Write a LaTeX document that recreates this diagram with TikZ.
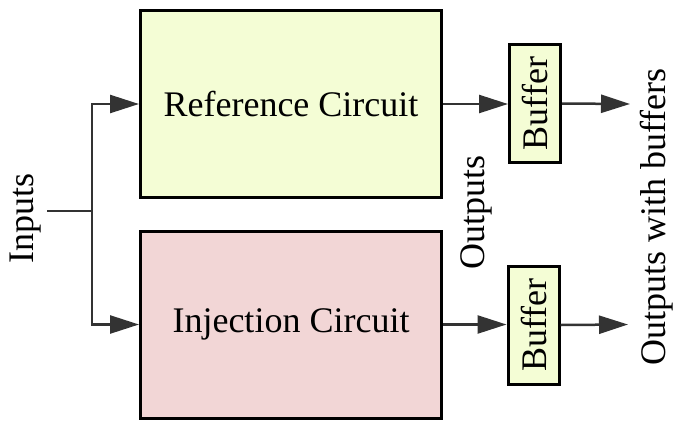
\documentclass[tikz,border=0pt]{standalone}
\usepackage{fontspec}
\setmainfont{Liberation Serif}
\usetikzlibrary{arrows.meta}
\definecolor{refFill}{HTML}{F4FDD5}
\definecolor{injFill}{HTML}{F2D6D6}
\definecolor{wire}{HTML}{333333}
\begin{document}
\begin{tikzpicture}[x=1pt,y=-1pt,
  font=\fontsize{36}{40}\selectfont,
  block/.style={draw=black, line width=3pt, inner sep=0pt},
  bufbox/.style={block, fill=refFill, rotate=90, minimum width=118pt, minimum height=51pt},
  label/.style={inner sep=0pt, rotate=90},
  wireline/.style={draw=wire, line width=2.5pt},
  flow/.style={wireline, -{Triangle[length=29pt,width=18pt]}}]
\useasboundingbox (0,0) rectangle (675,421);

% circuit blocks
\node[block, fill=refFill, minimum width=301pt, minimum height=187pt] (ref) at (291,104) {Reference Circuit};
\node[block, fill=injFill, minimum width=301pt, minimum height=187pt] (inj) at (291,324.5) {Injection Circuit};

% output buffers
\node[bufbox] (buf1) at (535,103.5) {Buffer};
\node[bufbox] (buf2) at (533.5,325) {Buffer};

% input fan-out
\coordinate (inL) at (47,211);
\coordinate (jn) at (92,211);
\draw[wireline] (inL) -- (jn);
\draw[flow] (jn) |- (ref.west);
\draw[flow] (jn) |- (inj.west);

% outputs
\coordinate (o1) at (630,104);
\coordinate (o2) at (628,324.5);
\draw[flow] (ref.east) -- (ref.east -| buf1.north);
\draw[flow] (inj.east) -- (inj.east -| buf2.north);
\draw[flow] (buf1.south) -- (o1);
\draw[flow] (buf2.south) -- (o2);

% labels
\node[label] (lin) at (26,218) {Inputs};
\node[label] (lout) at (476,212) {Outputs};
\node[label] (lbuf) at (657,217) {Outputs with buffers};
\end{tikzpicture}
\end{document}
